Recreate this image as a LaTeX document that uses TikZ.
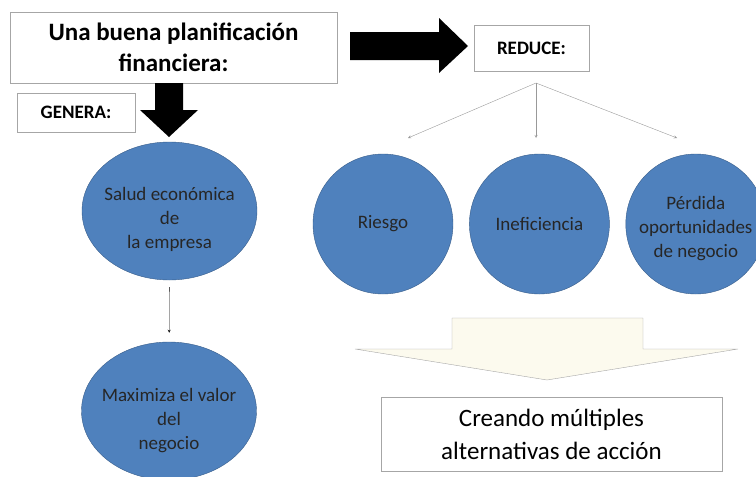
\documentclass[tikz,border=0pt]{standalone}
\usepackage{fontspec}
\setmainfont{Carlito}
\usetikzlibrary{shapes.geometric, positioning}

\definecolor{discblue}{RGB}{79,129,189}
\definecolor{discedge}{RGB}{56,93,138}
\definecolor{arrowfill}{RGB}{252,250,238}

\begin{document}
\begin{tikzpicture}[x=1pt, y=-1pt]
    % settings
    \tikzset{
      >=stealth,
      textbox/.style={draw=gray!70, fill=white, align=center, inner sep=0pt},
      disc/.style={circle, draw=discedge, fill=discblue, minimum size=140pt,
                   inner sep=0pt, align=center, text=black!85, font=\fontsize{19}{24}\selectfont},
      oval/.style={ellipse, draw=discedge, fill=discblue, minimum width=175pt,
                   minimum height=138pt, inner sep=0pt},
      ovaltext/.style={align=center, text=black!85, font=\fontsize{19}{24}\selectfont},
      thin arrow/.style={->, gray!80, thin},
    }
    \useasboundingbox (0,0) rectangle (756,477);

    % boxes
    \node[textbox, minimum width=327pt, minimum height=71pt,
          font=\bfseries\fontsize{25}{31}\selectfont] at (173.5,47.5) (plan)
          {Una buena planificación\\financiera:};
    \node[textbox, minimum width=118pt, minimum height=39pt,
          font=\bfseries\fontsize{19}{22}\selectfont] at (76,112.5) (genera) {GENERA:};
    \node[textbox, minimum width=115pt, minimum height=46pt,
          font=\bfseries\fontsize{19}{22}\selectfont] at (531.5,48) (reduce) {REDUCE:};
    \node[textbox, minimum width=341pt, minimum height=74pt,
          font=\fontsize{25}{33}\selectfont] at (551.5,434) (crea)
          {Creando múltiples\\alternativas de acción};

    % discs
    \node[oval] at (169.5,211) (salud) {};
    \node[ovaltext] at ([yshift=-8pt]salud.center) (saludtxt) {Salud económica\\de\\la empresa};
    \node[oval] at (169,411) (maxi) {};
    \node[ovaltext] at ([yshift=-10pt]maxi.center) (maxitxt) {Maximiza el valor\\del\\negocio};
    \node[disc] at (383,224) (riesgo) {Riesgo};
    \node[disc, right=16pt of riesgo] (inef) {Ineficiencia};
    \node[disc, right=16pt of inef] (perdida) {\\[-2pt]Pérdida\\oportunidades\\de negocio};

    % block arrows
    \fill[black] (350,32) -- (439,32) -- (439,18) -- (468,46) -- (439,73)
                 -- (439,60) -- (350,60) -- cycle;
    \fill[black] (155,83) -- (183,83) -- (183,110) -- (198,110) -- (169,137)
                 -- (140,110) -- (155,110) -- cycle;
    \filldraw[draw=gray!70, fill=arrowfill] (452,318) -- (643,318) -- (643,349)
                 -- (738,349) -- (547,380) -- (355,349) -- (452,349) -- cycle;

    % connectors
    \coordinate (fork) at (536,83);
    \coordinate (toRiesgo) at (408,138);
    \coordinate (toInef) at (536,138);
    \coordinate (toPerdida) at (677,138);
    \draw[thin arrow] (fork) -- (toRiesgo);
    \draw[thin arrow] (fork) -- (toInef);
    \draw[thin arrow] (fork) -- (toPerdida);
    \draw[->, thin, shorten <=7pt, shorten >=9pt] (salud) -- (maxi);

\end{tikzpicture}
\end{document}
